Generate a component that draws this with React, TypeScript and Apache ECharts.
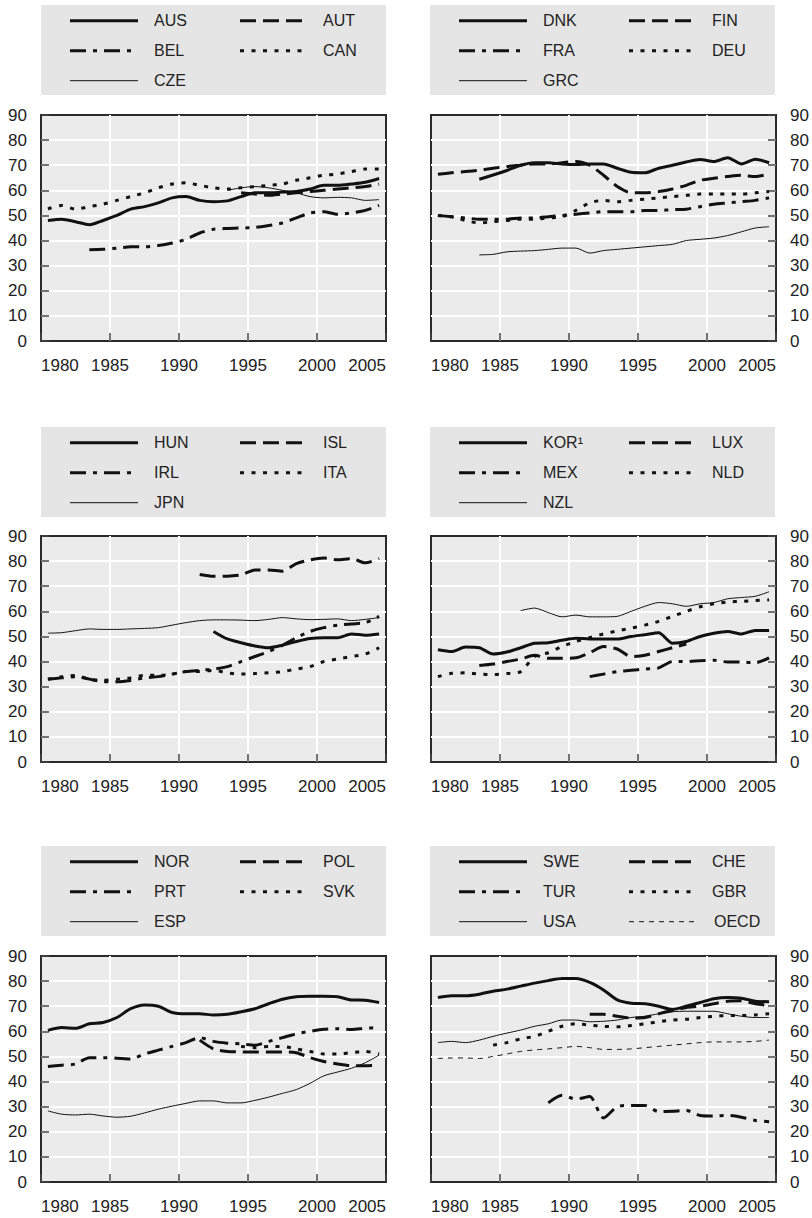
import React, { useEffect, useRef } from "react";
import * as echarts from "echarts";

const N = null;
const YEARS = [1980, 1981, 1982, 1983, 1984, 1985, 1986, 1987, 1988, 1989, 1990, 1991, 1992, 1993, 1994, 1995, 1996, 1997, 1998, 1999, 2000, 2001, 2002, 2003, 2004];
const X_TICKS = [1980, 1985, 1990, 1995, 2000, 2005];

// Panel 1
const AUS = [48, 48.5, 47.5, 46.3, 48, 50, 52.5, 53.5, 55, 57, 57.5, 56, 55.5, 55.8, 57.5, 59, 59, 59.3, 59.5, 60.5, 62, 62, 62.5, 63.2, 64.7];
const AUT = [N, N, N, N, N, N, N, N, N, N, N, N, N, N, 59, 58.5, 58, 58.5, 59, 59.5, 60, 60.5, 61, 61.5, 62.5];
const BEL = [N, N, N, 36.3, 36.5, 37, 37.5, 37.5, 38, 39, 40.5, 43, 44.5, 44.8, 45, 45.2, 46, 47, 49, 51, 51.5, 50.5, 51, 52, 54];
const CAN = [52.6, 54, 52.5, 53.5, 54.5, 56, 57.5, 59, 61, 62.5, 63, 62, 61, 60.5, 61, 61.5, 62, 62.5, 64, 65, 66, 66.5, 67.5, 68.5, 68.5];
const CZE = [N, N, N, N, N, N, N, N, N, N, N, N, N, 60, 61, 61.5, 61, 60, 59, 57.5, 57, 57.2, 57, 56, 56.3];
// Panel 2
const DNK = [N, N, N, 64.4, 66.1, 67.9, 70, 71, 71, 70.5, 70.3, 70.5, 70.5, 68.8, 67.2, 67, 68.8, 70, 71.3, 72.3, 71.5, 73, 70.5, 72.4, 71];
const FIN = [66.4, 67, 67.5, 68, 68.8, 69.5, 70, 70.5, 70.5, 71, 71.5, 70, 66, 61.5, 59, 59, 59.5, 60.5, 62, 64, 64.8, 65.5, 66, 65.5, 66.5];
const FRA = [50, 49.5, 49, 48.5, 48.5, 48.5, 49, 49, 49.5, 50, 50.5, 51, 51.5, 51.5, 51.5, 52, 52, 52.3, 52.5, 53.5, 54.5, 55, 55.5, 56, 57];
const DEU = [50, 49.5, 48, 47, 47.5, 48, 48.5, 48.5, 49, 49.5, 52, 55, 56, 55.5, 56, 56.5, 57, 57.5, 58, 58.5, 58.5, 58.5, 58.5, 59, 59.5];
const GRC = [N, N, N, 34.3, 34.5, 35.5, 35.8, 36, 36.5, 37, 37, 35, 36, 36.5, 37, 37.5, 38, 38.5, 40, 40.5, 41, 42, 43.5, 45, 45.5];
// Panel 3
const HUN = [N, N, N, N, N, N, N, N, N, N, N, N, 52, 49, 47.5, 46.2, 45.5, 46.5, 48, 49.2, 49.5, 49.5, 51, 50.5, 51];
const ISL = [N, N, N, N, N, N, N, N, N, N, N, 74.7, 74, 74, 74.5, 76.5, 76.5, 76, 79, 80.5, 81.2, 80.5, 81, 79.3, 81];
const IRL = [33, 33.5, 34, 33, 32, 32, 32.5, 33.5, 34, 35, 36, 36.5, 37, 38, 40, 42, 44, 46.5, 49.5, 52, 53.5, 54.5, 55, 55.5, 58];
const ITA = [33, 34, 34.5, 33, 32.5, 33, 33.5, 34.5, 34.5, 35, 36, 36, 36.5, 35.5, 35, 35.2, 35.5, 36, 37, 38, 40, 41, 42, 43, 45.5];
const JPN = [51.3, 51.5, 52.3, 53, 52.8, 52.8, 53, 53.2, 53.5, 54.5, 55.5, 56.3, 56.6, 56.6, 56.5, 56.3, 56.8, 57.5, 57, 56.7, 56.8, 57, 56.3, 56.8, 57.5];
// Panel 4
const KOR = [44.7, 44, 45.8, 45.5, 43, 43.8, 45.5, 47.3, 47.5, 48.5, 49.3, 49, 49, 49, 50, 50.7, 51.5, 47.3, 48, 50, 51.3, 52, 51, 52.4, 52.4];
const LUX = [N, N, N, 38.4, 39, 40, 41, 42.5, 41.3, 41.3, 41.5, 43.5, 46, 45, 42, 42.5, 44, 45.5, 47, N, N, N, N, N, N];
const MEX = [N, N, N, N, N, N, N, N, N, N, N, 34, 35, 36, 36.5, 37, 37.5, 40, 40, 40.3, 40.5, 39.8, 39.8, 39.5, 41.5];
const NLD = [34, 35.3, 35.5, 35, 34.8, 35.2, 36, 42, 43.5, 46, 48, 49.5, 51, 52.2, 53.3, 54.5, 56, 58, 60, 61.8, 63, 63.7, 64, 64.3, 64.6];
const NZL = [N, N, N, N, N, N, 60.3, 61.3, 59.5, 57.8, 58.5, 57.8, 57.8, 58, 60, 62, 63.5, 63, 62, 63, 63.5, 65, 65.5, 66, 67.8];
// Panel 5
const NOR = [60.4, 61.5, 61.2, 63, 63.5, 65.5, 69, 70.5, 70, 67.5, 67, 67, 66.5, 66.8, 67.8, 69, 71, 72.8, 73.8, 74, 74, 73.8, 72.5, 72.4, 71.5];
const POL = [N, N, N, N, N, N, N, N, N, N, N, 56.5, 53, 52, 51.8, 51.8, 51.8, 51.8, 51.5, 49.5, 48, 47, 46.3, 46.3, 46.5];
const PRT = [46, 46.5, 47, 49.5, 49.5, 49.3, 49, 51, 52.5, 54, 55.5, 57.5, 56, 55.3, 55, 54.5, 56, 57.5, 59, 60, 60.8, 61, 60.7, 61.2, 61.5];
const SVK = [N, N, N, N, N, N, N, N, N, N, N, N, N, N, 54, 53.5, 54, 54, 53, 52, 51, 51, 51.5, 52, 51];
const ESP = [28.3, 27, 26.7, 27, 26.3, 25.8, 26.2, 27.5, 29, 30.2, 31.3, 32.3, 32.3, 31.5, 31.5, 32.5, 33.8, 35.3, 36.8, 39.3, 42.3, 43.8, 45.3, 47.5, 50.5];
// Panel 6
const SWE = [73.5, 74.2, 74.2, 74.8, 76, 76.8, 78, 79.2, 80.2, 81, 81, 79.5, 76.5, 72.5, 71.2, 71, 70, 68.7, 70, 71.5, 73, 73.5, 73.2, 72, 71.8];
const CHE = [N, N, N, N, N, N, N, N, N, N, N, 66.8, 66.8, 66, 65.3, 65.5, 67, 68.3, 69.5, 70, 71, 72, 72.2, 71, 70.3];
const TUR = [N, N, N, N, N, N, N, N, 31.5, 34.5, 33, 34, 25.5, 30, 30.5, 30.5, 28, 28.2, 28.5, 26.5, 26.3, 26.5, 25.8, 24.5, 24];
const GBR = [N, N, N, N, 54.5, 55.5, 57, 58, 60, 62, 63, 62.5, 62, 61.8, 62.3, 63, 63.8, 64.5, 64.8, 65.5, 66, 66.3, 66.3, 66.5, 67];
const USA = [55.5, 56, 55.5, 56.5, 58, 59.3, 60.5, 62, 63, 64.5, 64.5, 63.8, 64, 64.5, 65.5, 66, 67, 67.8, 68, 68, 68, 67, 66, 65.5, 65.5];
const OECD = [49.2, 49.4, 49.4, 49.2, 50, 51, 52, 52.6, 53, 53.5, 54, 53.5, 52.8, 52.8, 53, 53.5, 54, 54.5, 55, 55.5, 55.8, 55.8, 55.8, 56, 56.5];

const NAMES_1 = ["AUS", "AUT", "BEL", "CAN", "CZE"];
const NAMES_2 = ["DNK", "FIN", "FRA", "DEU", "GRC"];
const NAMES_3 = ["HUN", "ISL", "IRL", "ITA", "JPN"];
const NAMES_4 = ["KOR\u00B9", "LUX", "MEX", "NLD", "NZL"];
const NAMES_5 = ["NOR", "POL", "PRT", "SVK", "ESP"];
const NAMES_6 = ["SWE", "CHE", "TUR", "GBR", "USA", "OECD"];

const PANEL_NAMES = [NAMES_1, NAMES_2, NAMES_3, NAMES_4, NAMES_5, NAMES_6];
const PANEL_DATA = [
  [AUS, AUT, BEL, CAN, CZE],
  [DNK, FIN, FRA, DEU, GRC],
  [HUN, ISL, IRL, ITA, JPN],
  [KOR, LUX, MEX, NLD, NZL],
  [NOR, POL, PRT, SVK, ESP],
  [SWE, CHE, TUR, GBR, USA, OECD],
];

const FONT = "'Liberation Sans', Arial, sans-serif";
const INK = "#111";
const TEXT = "#222";

const STYLES = [
  { width: 3, dash: "solid" as any },
  { width: 3, dash: [16, 7] },
  { width: 3, dash: [16, 7, 4, 7] },
  { width: 3, dash: [4, 7.5] },
  { width: 1, dash: "solid" as any },
  { width: 1, dash: [5, 5] },
];

const COL_LEFT_GRID = [41, 431];
const COL_LEFT_BOX = [41, 430];
const ROW_TOP_GRID = [115, 536, 956];
const ROW_TOP_BOX = [5, 427, 846];

export default function App() {
  const ref = useRef<HTMLDivElement>(null);
  useEffect(() => {
    if (!ref.current) return;
    const chart = echarts.init(ref.current, undefined, { renderer: "svg" });

    const grids: any[] = [];
    const xAxes: any[] = [];
    const yAxes: any[] = [];
    const series: any[] = [];
    const graphics: any[] = [];

    PANEL_DATA.forEach((arrs, p) => {
      const col = p % 2;
      const row = Math.floor(p / 2);
      grids.push({
        left: COL_LEFT_GRID[col],
        top: ROW_TOP_GRID[row],
        width: 345,
        height: 226,
        show: true,
        backgroundColor: "#ebebeb",
        borderColor: "#2a2a2a",
        borderWidth: 2,
        z: 0,
      });
      xAxes.push({
        gridIndex: p,
        type: "value",
        min: 1980,
        max: 2005,
        interval: 5,
        axisLine: { show: false },
        axisTick: { show: true, inside: true, length: 8, lineStyle: { color: "#444", width: 1.5 } },
        splitLine: { show: true, showMinLine: false, showMaxLine: false, lineStyle: { color: "#ffffff", width: 2 } },
        axisLabel: {
          margin: 16,
          fontSize: 17,
          fontFamily: FONT,
          color: TEXT,
          alignMinLabel: "left",
          alignMaxLabel: "right",
          formatter: (v: number) => (X_TICKS.includes(v) ? String(v) : ""),
        },
      });
      yAxes.push({
        gridIndex: p,
        type: "value",
        position: col === 0 ? "left" : "right",
        min: 0,
        max: 90,
        interval: 10,
        axisLine: { show: false },
        axisTick: { show: true, inside: true, length: 8, lineStyle: { color: "#444", width: 1.5 } },
        splitLine: { show: true, showMinLine: false, showMaxLine: false, lineStyle: { color: "#ffffff", width: 2 } },
        axisLabel: { margin: 14, fontSize: 17, fontFamily: FONT, color: TEXT },
      });

      arrs.forEach((vals, i) => {
        const st = STYLES[i];
        const data: any[] = [];
        YEARS.forEach((y, k) => {
          if (vals[k] !== null && vals[k] !== undefined) data.push([y + 0.5, vals[k]]);
        });
        series.push({
          type: "line",
          name: PANEL_NAMES[p][i],
          xAxisIndex: p,
          yAxisIndex: p,
          data,
          showSymbol: false,
          symbol: "none",
          smooth: 0.25,
          z: 3,
          lineStyle: { color: INK, width: st.width, type: st.dash, cap: "butt", join: "round" },
        });
      });

      // legend box
      const bx = COL_LEFT_BOX[col];
      const by = ROW_TOP_BOX[row];
      graphics.push({
        type: "rect",
        left: bx,
        top: by,
        shape: { x: 0, y: 0, width: 345, height: 90 },
        style: { fill: "#e5e5e5" },
        z: 1,
      });
      PANEL_NAMES[p].forEach((name, i) => {
        const st = STYLES[i];
        const c = i % 2;
        const r = Math.floor(i / 2);
        const ly = by + 15.7 + r * 30;
        const x1 = bx + 29 + c * 170;
        graphics.push({
          type: "line",
          shape: { x1, y1: ly, x2: x1 + 68, y2: ly },
          style: {
            stroke: INK,
            lineWidth: st.width,
            lineDash: Array.isArray(st.dash) ? st.dash : null,
            lineCap: "butt",
          },
          z: 2,
        });
        graphics.push({
          type: "text",
          x: bx + 113 + c * 169 + (name === "OECD" ? 2 : 0),
          y: ly,
          style: {
            text: name,
            fill: TEXT,
            fontSize: 16,
            fontFamily: FONT,
            verticalAlign: "middle",
            align: "left",
          },
          z: 2,
        });
      });
    });

    chart.setOption({
      animation: false,
      backgroundColor: "#ffffff",
      grid: grids,
      xAxis: xAxes,
      yAxis: yAxes,
      series,
      graphic: graphics,
    });
    return () => chart.dispose();
  }, []);

  return (
    <div
      ref={ref}
      style={{ position: "absolute", left: 0, top: 0, width: 812, height: 1218 }}
    />
  );
}
